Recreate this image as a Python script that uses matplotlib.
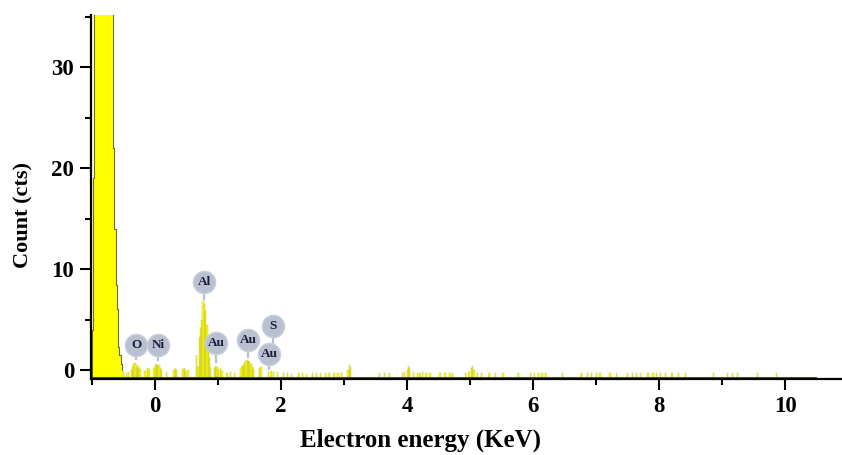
import numpy as np
import matplotlib.pyplot as plt

# EDS spectrum: bin centres (keV) and counts (bins 0.02 keV wide)
energy = [
    -1.00, -0.98, -0.96, -0.94, -0.92, -0.90, -0.88, -0.86, -0.84, -0.82, -0.80,
    -0.78, -0.76, -0.74, -0.72, -0.70, -0.68, -0.66, -0.64, -0.62, -0.60, -0.58,
    -0.56, -0.54, -0.52, -0.50, -0.46, -0.42,
    -0.38, -0.36, -0.34, -0.32, -0.30, -0.28, -0.26, -0.24, -0.16, -0.12, -0.10,
    -0.02, 0.00, 0.02, 0.04, 0.06, 0.08, 0.10, 0.18, 0.30, 0.32, 0.34, 0.44, 0.46,
    0.48, 0.52,
    0.66, 0.68, 0.70, 0.72, 0.74, 0.76, 0.78, 0.80, 0.82, 0.84, 0.86, 0.88,
    0.94, 0.96, 0.98, 1.00, 1.04, 1.06, 1.14, 1.20, 1.26,
    1.36, 1.38, 1.40, 1.42, 1.44, 1.46, 1.48, 1.50, 1.52, 1.54, 1.56, 1.66, 1.68,
    1.80, 1.84, 1.88, 1.94,
    2.04, 2.10, 2.16, 2.28, 2.34, 2.40, 2.50, 2.56, 2.62, 2.70, 2.76, 2.84, 2.90,
    2.96, 3.06, 3.08, 3.10,
    3.56, 3.64, 3.72, 3.92, 3.96, 4.00, 4.02, 4.04, 4.10, 4.16, 4.20, 4.24, 4.30,
    4.36, 4.52, 4.60, 4.68, 4.72, 4.92, 4.98, 5.02, 5.04, 5.06, 5.12, 5.18,
    5.30, 5.40, 5.52, 5.76, 5.96, 6.02, 6.08, 6.14, 6.20, 6.46,
    6.76, 6.86, 6.92, 7.00, 7.06, 7.22, 7.32, 7.50, 7.58, 7.64, 7.70,
    7.82, 7.90, 7.96, 8.02, 8.10, 8.20, 8.30, 8.42, 8.86, 9.08, 9.16, 9.24,
    9.56, 9.86,
]
counts = [
    4.0, 19.0, 60, 60, 60, 60, 60, 60, 60, 60, 60,
    60, 60, 60, 60, 60, 60, 22.0, 14.0, 8.4, 6.0, 2.3,
    1.5, 0.6, 0.0, -0.2, -0.3, -0.2,
    0.0, 0.3, 0.6, 0.7, 0.5, 0.2, 0.4, 0.1, -0.1, 0.2, 0.1,
    0.2, 0.5, 0.6, 0.4, 0.5, 0.2, 0.0, -0.2, 0.0, 0.2, 0.0, 0.1, 0.2,
    -0.1, 0.0,
    1.5, 0.3, 3.3, 4.2, 5.0, 6.8, 6.5, 5.8, 4.5, 2.7, 1.2, 0.2,
    0.2, 0.4, 0.3, 0.1, 0.2, -0.1, -0.3, -0.2, -0.3,
    0.2, 0.4, 0.5, 0.7, 0.9, 1.0, 0.9, 0.8, 0.6, 0.3, 0.1, 0.2, 0.3,
    -0.2, -0.1, -0.2, -0.2,
    -0.3, -0.3, -0.4, -0.3, -0.3, -0.4, -0.3, -0.3, -0.3, -0.3, -0.3, -0.3, -0.3,
    -0.2, 0.0, 0.5, 0.3,
    -0.3, -0.3, -0.3, -0.3, -0.2, 0.0, 0.4, 0.2, -0.2, -0.3, -0.3, -0.2, -0.3,
    -0.3, -0.3, -0.3, -0.3, -0.3, -0.3, -0.2, 0.2, 0.4, 0.0, -0.3, -0.3,
    -0.3, -0.3, -0.3, -0.3, -0.3, -0.3, -0.3, -0.3, -0.3, -0.3,
    -0.3, -0.3, -0.3, -0.3, -0.3, -0.3, -0.3, -0.3, -0.3, -0.3, -0.3,
    -0.3, -0.3, -0.3, -0.3, -0.3, -0.3, -0.3, -0.3, -0.3, -0.3, -0.3, -0.3,
    -0.3, -0.3,
]
spectrum_range = [-1.01, 10.47]
main_peak = 25  # first contiguous bins of the big low-energy peak

# peak labels: element, label position, tip of pointer
peak_labels = ['O', 'Ni', 'Al', 'Au', 'Au', 'S', 'Au']
label_x = [-0.30, 0.05, 0.78, 0.97, 1.48, 1.87, 1.81]
label_y = [2.48, 2.48, 8.7, 2.67, 2.97, 4.36, 1.58]
pointer_y = [1.05, 1.0, 7.0, 0.8, 1.3, 2.7, 0.1]

serif = 'Liberation Serif'
base = -0.89
fig = plt.figure(figsize=(8.42, 4.55), dpi=100)
ax = fig.add_axes([0.108, 0.167, 0.892, 0.800])

ax.bar(energy, np.array(counts) - base, bottom=base, width=0.021,
       color='#ffff00', edgecolor='none', linewidth=0, zorder=2)
# thin dark outline of the spectrum
ax.bar(energy[main_peak:], np.array(counts[main_peak:]) - base, bottom=base, width=0.02,
       fill=False, edgecolor='#c4c43a', linewidth=0.3, zorder=2.5)
ax.step(energy[:main_peak], counts[:main_peak], where='mid', color='#6f6f20', lw=0.8, zorder=3)
ax.plot([energy[0] - 0.01] * 2, [base, counts[0]], color='#6f6f20', lw=0.8, zorder=3)
ax.plot(spectrum_range, [base + 0.12, base + 0.12], color='#55552a', lw=2.2, zorder=3)

for lab, x, y, py in zip(peak_labels, label_x, label_y, pointer_y):
    ax.plot([x, x], [py, y], color='#b9c0cf', lw=1.6, zorder=4)
    ax.plot(x, y, 'o', ms=16, color='#b9c0cf', mec='#c9cfdc', zorder=5)
    ax.text(x, y, lab, ha='center', va='center', fontsize=9.5, fontweight='bold',
            family=serif, color='#1c1c3c', zorder=6)

ax.set_xlim(-1.02, 10.9)
ax.set_ylim(base, 35.15)
ax.set_xticks([0, 2, 4, 6, 8, 10])
ax.set_xticks([-1, 1, 3, 5, 7, 9], minor=True)
ax.set_yticks([0, 10, 20, 30])
ax.set_yticks([5, 15, 25, 35], minor=True)

for s in ['top', 'right']:
    ax.spines[s].set_visible(False)
for s in ['left', 'bottom']:
    ax.spines[s].set_linewidth(1.6)
    ax.spines[s].set_zorder(7)

ax.tick_params(which='major', direction='out', length=8, width=1.5, pad=4)
ax.tick_params(which='minor', direction='out', length=4.3, width=1.5)
for t in ax.get_xticklabels() + ax.get_yticklabels():
    t.set_family(serif)
    t.set_fontweight('bold')
    t.set_fontsize(16.5)

ax.set_ylabel('Count (cts)', family=serif, fontweight='bold', fontsize=16)
ax.yaxis.set_label_coords(-0.077, 0.45)
fig.text(0.5, 0.018, 'Electron energy (KeV)', ha='center', va='baseline',
         family=serif, fontweight='bold', fontsize=18)

fig.savefig('out.png', dpi=100)
